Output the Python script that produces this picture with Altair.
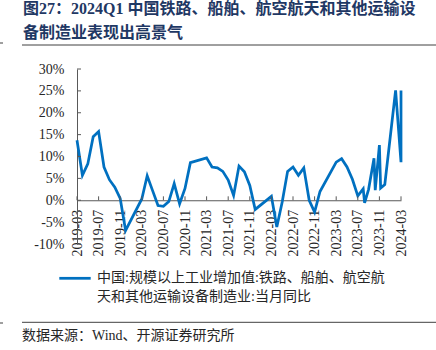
import altair as alt
import pandas as pd

# ---- data ----
dates = [
    "2019-03-01", "2019-04-01", "2019-05-01", "2019-06-01", "2019-07-01", "2019-08-01",
    "2019-09-01", "2019-10-01", "2019-11-01", "2019-12-01",
    "2020-03-01", "2020-04-01", "2020-05-01", "2020-06-01", "2020-07-01", "2020-08-01",
    "2020-09-01", "2020-10-01", "2020-11-01", "2020-12-01",
    "2021-03-01", "2021-04-01", "2021-05-01", "2021-06-01", "2021-07-01", "2021-08-01",
    "2021-09-01", "2021-10-01", "2021-11-01", "2021-12-01",
    "2022-03-01", "2022-04-01", "2022-05-01", "2022-06-01", "2022-07-01", "2022-08-01",
    "2022-09-01", "2022-10-01", "2022-11-01", "2022-12-01",
    "2023-03-01", "2023-04-01", "2023-05-01", "2023-06-01", "2023-07-01",
    "2023-08-01", "2023-08-09", "2023-09-01", "2023-10-01", "2023-10-08",
    "2023-11-01", "2023-11-08", "2023-12-01",
    "2024-02-01", "2024-03-01", "2024-03-01",
]
values = [
    13.7, 5.7, 8.3, 14.5, 15.7, 7.6,
    4.7, 3.0, 0.4, -6.9,
    0.3, 5.6, 2.2, -1.2, -1.4, -0.3,
    3.8, -0.8, 2.7, 8.6,
    9.7, 7.6, 7.4, 6.6, 4.6, 1.1,
    7.8, 6.5, 3.4, -2.1,
    0.9, -6.1, -0.4, 6.6, 7.6, 5.7,
    7.4, 0.0, -2.7, 2.0,
    8.7, 9.5, 7.6, 4.8, 1.0,
    2.6, -0.6, 2.5, 9.6, 2.3,
    12.6, 2.8, 3.6,
    25.1, 8.7, 25.1,
]
tick_labels = [
    "2019-03", "2019-07", "2019-11", "2020-03", "2020-07", "2020-11",
    "2021-03", "2021-07", "2021-11", "2022-03", "2022-07", "2022-11",
    "2023-03", "2023-07", "2023-11", "2024-03",
]
y_ticks = [-10, -5, 0, 5, 10, 15, 20, 25, 30]

title_lines = ["图27：2024Q1 中国铁路、船舶、航空航天和其他运输设", "备制造业表现出高景气"]
legend_lines = ["中国:规模以上工业增加值:铁路、船舶、航空航", "天和其他运输设备制造业:当月同比"]
source_text = "数据来源：Wind、开源证券研究所"


def to_t(s):
    y, m, d = (int(p) for p in s.split("-"))
    return (y - 2019) * 12 + (m - 3) + (d - 1) / 30.5


df = pd.DataFrame({"t": [to_t(s) for s in dates], "v": values, "idx": list(range(len(dates)))})
tick_df = pd.DataFrame({"t": [to_t(s + "-01") for s in tick_labels]})
ytick_df = pd.DataFrame({"v": y_ticks})

label_expr = "[" + ",".join(f"'{l}'" for l in tick_labels) + "][round(datum.value/4)]"

SERIF = "Liberation Serif, Noto Sans CJK SC"
AXIS_COLOR = "#595959"
LINE_COLOR = "#0070C0"
TEXT_COLOR = "#262626"

xscale = alt.Scale(domain=[0, 60], nice=False, zero=False)
yscale = alt.Scale(domain=[-10, 30], nice=False, zero=False)

H = 175
zero_px = H * 30 / 40

x_axis = alt.Axis(
    values=tick_df["t"].tolist(), labelExpr=label_expr, labelAngle=270,
    ticks=False, grid=False, offset=-(H - zero_px), title=None,
    domainColor=AXIS_COLOR, labelFont="Liberation Serif", labelFontSize=14,
    labelColor=TEXT_COLOR, labelPadding=9, labelOverlap=False, labelFlush=False)
y_axis = alt.Axis(
    values=y_ticks, labelExpr="datum.value + '%'", ticks=False, grid=False, title=None,
    domainColor=AXIS_COLOR, labelFont="Liberation Serif",
    labelFontSize=14, labelColor=TEXT_COLOR, labelPadding=13,
    labelOverlap=False, labelFlush=False)

line = alt.Chart(df).mark_line(color=LINE_COLOR, strokeWidth=2.75).encode(
    x=alt.X("t:Q", scale=xscale, title=None, axis=x_axis),
    y=alt.Y("v:Q", scale=yscale, title=None, axis=y_axis),
    order="idx:Q",
)

yticks = alt.Chart(ytick_df).mark_rule(color=AXIS_COLOR, strokeWidth=1).encode(
    y=alt.Y("v:Q", scale=yscale, title=None, axis=y_axis),
    x=alt.value(0), x2=alt.value(4),
)
xticks = alt.Chart(tick_df).mark_rule(color=AXIS_COLOR, strokeWidth=1).encode(
    x=alt.X("t:Q", scale=xscale, title=None, axis=x_axis),
    y=alt.YDatum(0, axis=y_axis, scale=yscale), y2=alt.datum(0.9),
)


def text_layer(txt, x, y, size, color, font, weight="normal"):
    return alt.Chart(pd.DataFrame({"s": [txt]})).mark_text(
        align="left", baseline="middle", fontSize=size, color=color,
        font=font, fontWeight=weight,
    ).encode(x=alt.value(x), y=alt.value(y), text="s:N")


def hrule(x1, x2, y, color, width=1):
    return alt.Chart(pd.DataFrame({"a": [0]})).mark_rule(color=color, strokeWidth=width).encode(
        x=alt.value(x1), x2=alt.value(x2), y=alt.value(y))


TITLE_COLOR = "#1F3864"
layers = [
    line, yticks, xticks,
    text_layer(title_lines[0], -54, -60.5, 16, TITLE_COLOR, SERIF, "bold"),
    text_layer(title_lines[1], -54, -36, 16, TITLE_COLOR, SERIF, "bold"),
    hrule(-55, 359, -24, "#404040"),
    hrule(-77, -74, -26, "#404040"),
    hrule(-17.7, 13.7, 209.3, LINE_COLOR, 2.75),
    text_layer(legend_lines[0], 20, 209.3, 14, TEXT_COLOR, SERIF),
    text_layer(legend_lines[1], 20, 228.3, 14, TEXT_COLOR, SERIF),
    hrule(-55, 359, 253.3, "#404040"),
    hrule(-77, -74, 254, "#404040"),
    text_layer(source_text, -55, 267, 14, TEXT_COLOR, SERIF),
]

chart = alt.layer(*layers).properties(
    width=324, height=H,
    autosize=alt.AutoSizeParams(type="none"),
    padding={"left": 77, "top": 69, "right": 35, "bottom": 106},
    background="white",
).configure_view(stroke=None)

chart.save("out.html", embed_options={"renderer": "svg", "actions": False})
